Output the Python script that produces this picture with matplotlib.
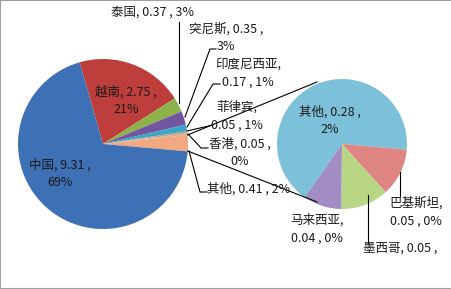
import matplotlib
matplotlib.use("Agg")
import matplotlib.pyplot as plt
from matplotlib.patches import Rectangle

plt.rcParams['font.family'] = ['Noto Sans CJK SC', 'DejaVu Sans']

# ---- data ----
main_names = ["越南", "泰国", "突尼斯", "印度尼西亚", "菲律宾", "香港", "其他", "中国"]
main_values = [2.75, 0.37, 0.35, 0.17, 0.05, 0.05, 0.41, 9.31]
main_pcts = ["21%", "3%", "3%", "1%", "1%", "0%", "2%", "69%"]

sec_names = ["其他", "巴基斯坦", "墨西哥", "马来西亚"]
sec_values = [0.28, 0.05, 0.05, 0.04]
sec_pcts = ["2%", "0%", "0%", "0%"]

main_colors = ["#BE3E3C", "#8DB24A", "#7356A0", "#3BA6C5", "#B8A088", "#D9B08C", "#F2A882", "#3E70B5"]
sec_colors = ["#7DC0DA", "#DE8584", "#B9D586", "#A18DC4"]

W, H = 452, 289
fig = plt.figure(figsize=(W / 100, H / 100), dpi=100)
ax = fig.add_axes([0, 0, 1, 1])

def Y(y):
    return H - y

# main pie
ax.pie(main_values, colors=main_colors, startangle=106, counterclock=False,
       center=(103, Y(144)), radius=85, wedgeprops=dict(linewidth=0))
# secondary pie
ax.pie(sec_values, colors=sec_colors, startangle=235, counterclock=False,
       center=(342, Y(144)), radius=65, wedgeprops=dict(linewidth=0))

ax.set_xlim(0, W)
ax.set_ylim(0, H)
ax.set_aspect('equal')
ax.axis('off')

def fmt(name, val, pct, mode):
    if mode == 'one':
        return f"{name}, {val:.2f} , {pct}"
    if mode == 'a':
        return f"{name}, {val:.2f} ,\n{pct}"
    if mode == 'b':
        return f"{name},\n{val:.2f} , {pct}"
    if mode == 'c':
        return f"{name}, {val:.2f} ,"

fs = 9
tc = "#1a1a1a"

# label layout: (x, y, mode) in pixel coordinates
main_layout = [(126, 101, 'a'), (153, 12, 'one'), (226, 38, 'a'), (248, 73, 'b'),
               (237, 116, 'b'), (240, 153, 'a'), (249, 189, 'one'), (60, 174, 'a')]
for n, v, p, (x, y, m) in zip(main_names, main_values, main_pcts, main_layout):
    ax.text(x, Y(y), fmt(n, v, p, m), ha='center', va='center', fontsize=fs,
            color=tc, linespacing=1.45, multialignment='center')

sec_layout = [(330, 121, 'a'), (416, 212, 'b'), (400, 248, 'c'), (317, 229, 'b')]
for n, v, p, (x, y, m) in zip(sec_names, sec_values, sec_pcts, sec_layout):
    ax.text(x, Y(y), fmt(n, v, p, m), ha='center', va='center', fontsize=fs,
            color=tc, linespacing=1.45, multialignment='center')

# leader lines
leaders = [
    [(179, 22), (179, 103)],
    [(216, 49), (210, 49), (185, 117)],
    [(220, 84), (213, 84), (187, 127)],
    [(213, 125), (187, 131)],
    [(208, 148), (201, 148), (188, 134)],
    [(207, 192), (200, 192), (189, 151)],
    [(400, 172), (400, 196)],
    [(368, 195), (368, 243)],
]
for pts in leaders:
    ax.plot([p[0] for p in pts], [Y(p[1]) for p in pts], color='black', lw=0.8)

# connector lines between pies
ax.plot([187.5, 317], [Y(135), Y(82)], color='black', lw=0.8)
ax.plot([187.7, 317], [Y(151), Y(202)], color='black', lw=0.8)

# border
fig.patches.append(Rectangle((0, 0), 1, 1, transform=fig.transFigure, fill=False,
                             edgecolor='#A0A0A0', linewidth=1.5))

fig.savefig("out.png", dpi=100)
